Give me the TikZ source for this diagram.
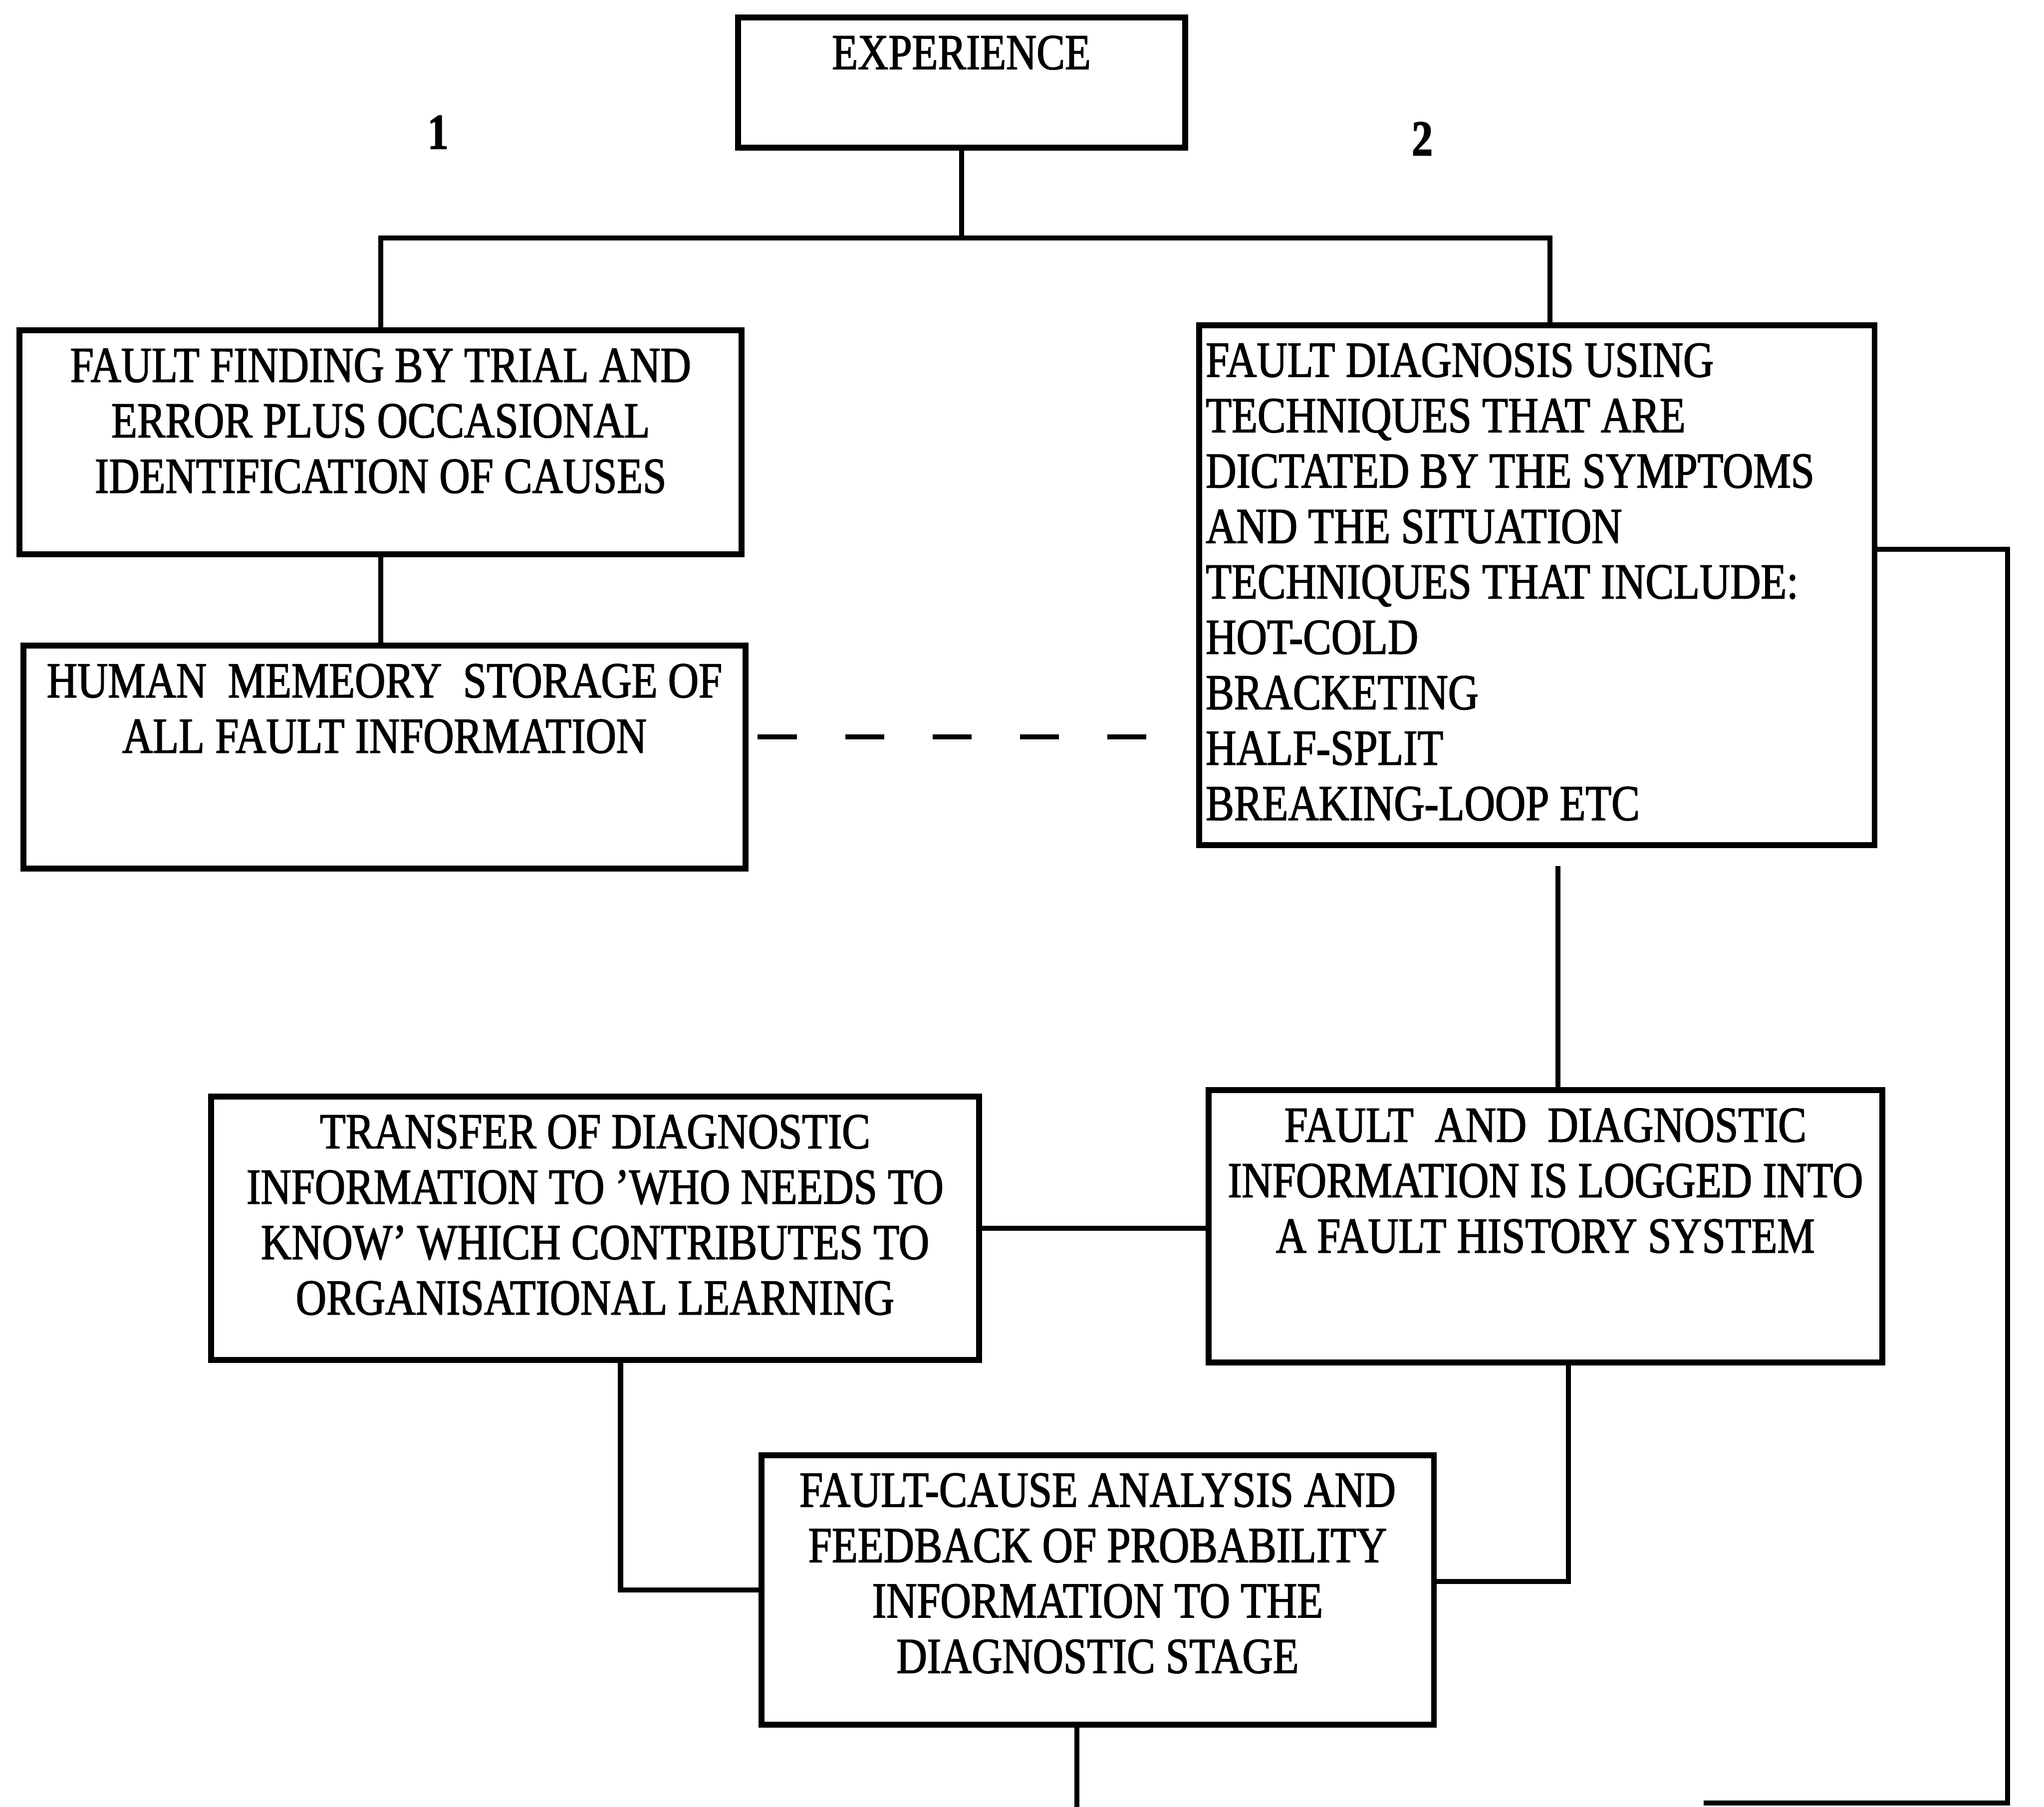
\documentclass[tikz,border=0pt]{standalone}
\usepackage{fontspec}
\setmainfont{Liberation Serif}[FakeStretch=0.84, FakeBold=1.6]
\usetikzlibrary{calc}

% box contents: fixed size, text starting near the top edge
\newcommand\flowbody[3]{\parbox[c][#2][t]{#1}{\centering\vspace*{0.14cm}#3\par}}
\newcommand\flowbodyleft[3]{\parbox[c][#2][t]{#1}{\raggedright\leftskip=0.05cm\vspace*{0.14cm}#3\par}}

\tikzset{
  flowbox/.style={draw, line width=1.3pt, inner sep=0pt,
    font=\fontsize{11pt}{12.1pt}\selectfont},
  link/.style={line width=1.1pt},
  dashlink/.style={line width=1.1pt, dash pattern=on 0.30cm off 0.37cm},
  branchno/.style={font=\fontsize{11pt}{12pt}\selectfont\bfseries}
}

\begin{document}
\begin{tikzpicture}
\useasboundingbox (0,0) rectangle (15.68,13.865);

% boxes
\node[flowbox] (X) at (7.375,13.23) {\flowbody{3.43cm}{1.00cm}{EXPERIENCE}};
\node[flowbox] (A) at (2.92,10.47) {\flowbody{5.54cm}{1.72cm}{FAULT FINDING BY TRIAL AND\\ERROR PLUS OCCASIONAL\\IDENTIFICATION OF CAUSES}};
\node[flowbox] (B) at (2.95,8.055) {\flowbody{5.54cm}{1.71cm}{HUMAN\ \ MEMEORY\ \ STORAGE OF\\ALL FAULT INFORMATION}};
\node[flowbox] (C) at (11.79,9.375) {\flowbodyleft{5.18cm}{3.99cm}{FAULT DIAGNOSIS USING\\TECHNIQUES THAT ARE\\DICTATED BY THE SYMPTOMS\\AND THE SITUATION\\TECHNIQUES THAT INCLUDE:\\HOT-COLD\\BRACKETING\\HALF-SPLIT\\BREAKING-LOOP ETC}};
\node[flowbox] (D) at (11.855,4.455) {\flowbody{5.17cm}{2.09cm}{FAULT\ \ AND\ \ DIAGNOSTIC\\INFORMATION IS LOGGED INTO\\A FAULT HISTORY SYSTEM}};
\node[flowbox] (E) at (4.565,4.44) {\flowbody{5.89cm}{2.02cm}{TRANSFER OF DIAGNOSTIC\\INFORMATION TO 'WHO NEEDS TO\\KNOW' WHICH CONTRIBUTES TO\\ORGANISATIONAL LEARNING}};
\node[flowbox] (F) at (8.42,1.665) {\flowbody{5.16cm}{2.07cm}{FAULT-CAUSE ANALYSIS AND\\FEEDBACK OF PROBABILITY\\INFORMATION TO THE\\DIAGNOSTIC STAGE}};

% branch numbers
\node[branchno] (n1) at (3.36,12.85) {1};
\node[branchno] (n2) at (10.91,12.80) {2};

% helper points
\coordinate (bus) at (0,12.04);
\coordinate (cN) at ([xshift=0.10cm]C.north);
\coordinate (bE) at ([yshift=0.155cm]B.east);
\coordinate (cE) at ([yshift=0.275cm]C.east);
\coordinate (rt) at (15.40,0.03);
\coordinate (bt) at (13.07,0.03);
\coordinate (cd) at (11.95,7.22);
\coordinate (eS) at ([xshift=0.195cm]E.south);
\coordinate (dS) at ([xshift=0.175cm]D.south);
\coordinate (fE) at ([yshift=0.065cm]F.east);
\coordinate (fS) at ([xshift=-0.16cm]F.south);
\coordinate (fend) at (fS |- 0,0);

% connectors
\draw[link] (X.south) -- (X.south |- bus);
\draw[link] (A.north) -- (A.north |- bus) -- (cN |- bus) -- (cN);
\draw[link] (A.south) -- (A.south |- B.north);
\draw[dashlink] ([xshift=0.07cm]bE) -- ([xshift=-0.33cm]bE -| C.west);
\draw[link] (cE) -| (rt) -- (bt);
\draw[link] (cd) -- (cd |- D.north);
\draw[link] (E.east) -- (E.east -| D.west);
\draw[link] (eS) |- (F.west);
\draw[link] (dS) |- (fE);
\draw[link] (fS) -- (fend);
\end{tikzpicture}
\end{document}
